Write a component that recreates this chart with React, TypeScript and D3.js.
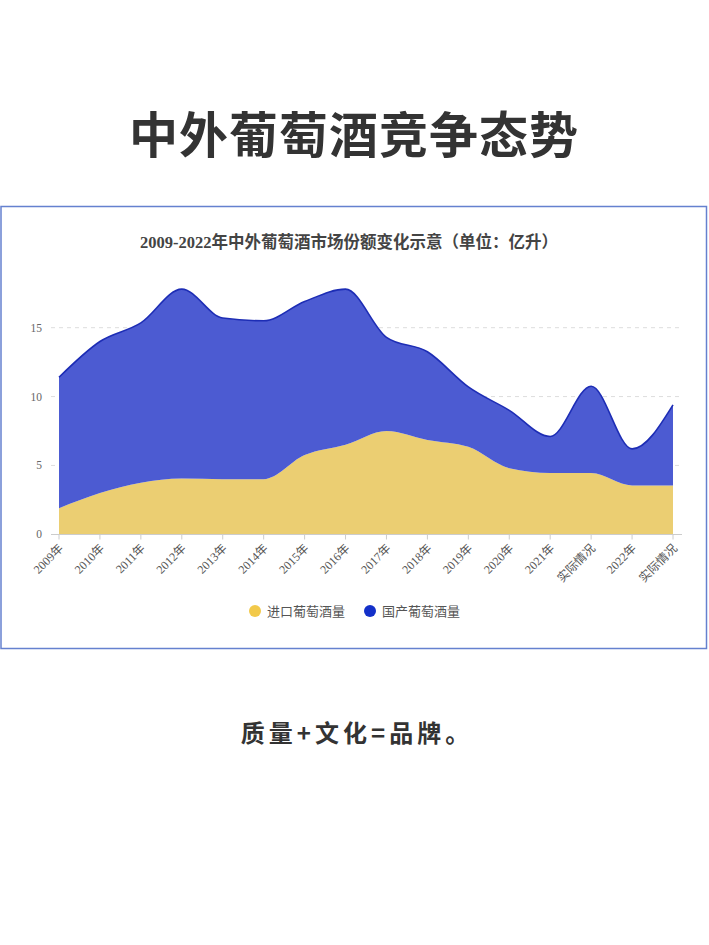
import * as d3 from "d3";
import { useEffect, useRef } from "react";

const categories = [
  "2009年", "2010年", "2011年", "2012年", "2013年", "2014年", "2015年", "2016年",
  "2017年", "2018年", "2019年", "2020年", "2021年", "实际情况", "2022年", "实际情况",
];
// 进口葡萄酒量 (亿升)
const imported = [1.9, 3.0, 3.75, 4.05, 4.0, 4.0, 5.75, 6.5, 7.5, 6.85, 6.35, 4.8, 4.45, 4.45, 3.55, 3.55];
// 国产葡萄酒量 (stacked on top of imported)
const domestic = [9.5, 11.0, 11.6, 13.75, 11.7, 11.5, 11.15, 11.3, 6.8, 6.4, 4.35, 4.2, 2.65, 6.3, 2.65, 5.85];
const yTicks = [0, 5, 10, 15];
const seriesNames = ["进口葡萄酒量", "国产葡萄酒量"];

const W = 709;
const H = 945;
const cjk = "'Noto Sans CJK SC', sans-serif";
const serif = "'Liberation Serif', 'Noto Sans CJK SC', serif";

export default function App() {
  const svgRef = useRef<SVGSVGElement>(null);

  useEffect(() => {
    if (!svgRef.current) return;
    const svg = d3.select(svgRef.current);
    svg.selectAll("*").remove();

    svg.append("rect").attr("width", W).attr("height", H).attr("fill", "#fff");

    svg.append("text")
      .attr("x", 354).attr("y", 153)
      .attr("text-anchor", "middle")
      .attr("font-family", cjk).attr("font-weight", 700)
      .attr("font-size", 49).attr("letter-spacing", 1)
      .attr("fill", "#333")
      .text("中外葡萄酒竞争态势");

    // frame
    svg.append("rect")
      .attr("x", 1).attr("y", 206.5).attr("width", 705.5).attr("height", 442)
      .attr("fill", "none").attr("stroke", "#6581cf").attr("stroke-width", 1.5);

    svg.append("text")
      .attr("x", 349).attr("y", 248)
      .attr("text-anchor", "middle")
      .attr("font-family", serif).attr("font-weight", 700)
      .attr("font-size", 16.5).attr("fill", "#444")
      .text("2009-2022年中外葡萄酒市场份额变化示意（单位：亿升）");

    const x = d3.scaleLinear().domain([0, categories.length - 1]).range([59, 673]);
    const y = d3.scaleLinear().domain([0, 15]).range([534.3, 327.7]);

    // grid
    svg.append("g")
      .selectAll("line")
      .data(yTicks.filter(d => d > 0))
      .join("line")
      .attr("x1", 51).attr("x2", 682)
      .attr("y1", d => y(d)).attr("y2", d => y(d))
      .attr("stroke", "#ddd").attr("stroke-dasharray", "4,4");

    const rows = categories.map((_, i) => ({ i, imported: imported[i], domestic: domestic[i] }));
    const stacked = d3.stack<{ i: number; imported: number; domestic: number }>()
      .keys(["imported", "domestic"])(rows);

    const area = d3.area<d3.SeriesPoint<{ i: number }>>()
      .x(d => x(d.data.i))
      .y0(d => y(d[0]))
      .y1(d => y(d[1]))
      .curve(d3.curveMonotoneX);
    const topLine = d3.line<d3.SeriesPoint<{ i: number }>>()
      .x(d => x(d.data.i))
      .y(d => y(d[1]))
      .curve(d3.curveMonotoneX);

    const fills = ["#ebce72", "#4c5bd2"];
    svg.append("g")
      .selectAll("path")
      .data(stacked)
      .join("path")
      .attr("d", d => area(d as any))
      .attr("fill", (_, k) => fills[k]);

    svg.append("path")
      .datum(stacked[1])
      .attr("d", d => topLine(d as any))
      .attr("fill", "none")
      .attr("stroke", "#1d2db5")
      .attr("stroke-width", 1.6);

    // x axis
    const xAxis = svg.append("g");
    xAxis.append("line")
      .attr("x1", 51).attr("x2", 682).attr("y1", 534.5).attr("y2", 534.5)
      .attr("stroke", "#ccc");
    xAxis.selectAll("line.tick")
      .data(categories)
      .join("line")
      .attr("class", "tick")
      .attr("x1", (_, i) => x(i)).attr("x2", (_, i) => x(i))
      .attr("y1", 534.5).attr("y2", 539.5)
      .attr("stroke", "#ccc");
    xAxis.selectAll("text")
      .data(categories)
      .join("text")
      .attr("transform", (_, i) => `translate(${x(i) + 2},${546}) rotate(-45)`)
      .attr("text-anchor", "end")
      .attr("dy", "0.35em")
      .attr("font-family", serif)
      .attr("font-size", 12)
      .attr("fill", "#555")
      .text(d => d);

    // y labels
    svg.append("g")
      .selectAll("text")
      .data(yTicks)
      .join("text")
      .attr("x", 42).attr("y", d => y(d))
      .attr("dy", "0.35em")
      .attr("text-anchor", "end")
      .attr("font-family", serif)
      .attr("font-size", 11.5)
      .attr("fill", "#666")
      .text(d => d);

    // legend
    const legendColors = ["#f2c94a", "#1330c9"];
    const legendX = [255, 370];
    const lg = svg.append("g");
    seriesNames.forEach((name, k) => {
      lg.append("circle")
        .attr("cx", legendX[k]).attr("cy", 611).attr("r", 6)
        .attr("fill", legendColors[k]);
      lg.append("text")
        .attr("x", legendX[k] + 12).attr("y", 611)
        .attr("dy", "0.35em")
        .attr("font-family", cjk)
        .attr("font-size", 13)
        .attr("fill", "#555")
        .text(name);
    });

    svg.append("text")
      .attr("x", 357).attr("y", 742)
      .attr("text-anchor", "middle")
      .attr("font-family", cjk).attr("font-weight", 700)
      .attr("font-size", 24).attr("letter-spacing", 4)
      .attr("fill", "#333")
      .text("质量+文化=品牌。");
  }, []);

  return (
    <svg
      ref={svgRef}
      width={W}
      height={H}
      style={{ position: "absolute", left: 0, top: 0 }}
    />
  );
}
